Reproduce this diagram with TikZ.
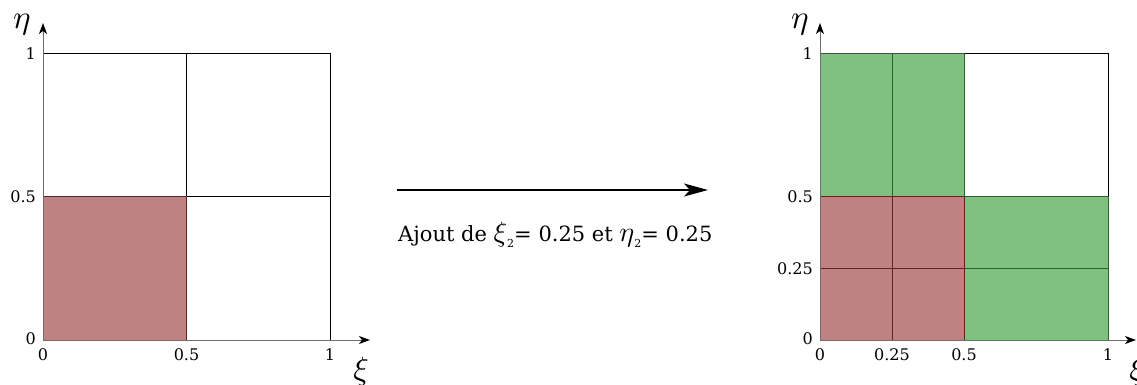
\documentclass[tikz,border=0pt]{standalone}
\usepackage{fontspec}
\setmainfont{DejaVu Serif}
\usetikzlibrary{arrows.meta}
\definecolor{redfill}{RGB}{191,130,130}
\definecolor{redline}{RGB}{100,35,35}
\definecolor{greenfill}{RGB}{128,192,128}
\definecolor{greenline}{RGB}{45,100,45}
\definecolor{axisgray}{RGB}{110,110,110}
\newcommand{\bigsym}[2]{\scalebox{#1}{\normalsize$#2$}}
\newcommand{\capsym}[2]{\bigsym{2.8}{#1}\raisebox{-0.6ex}{\fontsize{11}{11}\selectfont #2}}
\tikzset{
  tick/.style={font=\fontsize{16}{18}\selectfont, inner sep=1pt},
  axis/.style={draw=axisgray, line width=1pt, -{Stealth[length=11pt,width=8pt,inset=3pt,color=black]}},
  axlab/.style={inner sep=0pt},
  grid/.style={draw=black, line width=0.6pt},
  redcell/.style={fill=redfill, draw=redline, line width=0.8pt},
  greencell/.style={fill=greenfill, draw=greenline, line width=0.8pt}
}
\begin{document}
\begin{tikzpicture}[x=1pt,y=-1pt]
\useasboundingbox (0,0) rectangle (1137,385);
% ---------- left ----------
\coordinate (LO) at (43,340);
\draw[grid] (43,53) rectangle (330,340);
\draw[grid] (186.5,53) -- (186.5,340);
\draw[grid] (43,196.5) -- (330,196.5);
\draw[redcell] (43,196.5) rectangle (186.5,340);
\coordinate (LYT) at (43,23);
\coordinate (LXT) at (370,340);
\draw[axis] (LO) -- (LYT);
\draw[axis] (LO) -- (LXT);
\node[axlab] (leta) at (22,25) {\bigsym{3.3}{\eta}};
\node[axlab] (lxi) at (361,371) {\bigsym{3.2}{\xi}};
\node[tick, anchor=east] (ly1) at (37,54) {1};
\node[tick, anchor=east] (ly05) at (37,196.5) {0.5};
\node[tick, anchor=east] (ly0) at (37,339) {0};
\node[tick] (lx0) at (43,355) {0};
\node[tick] (lx05) at (186.5,355) {0.5};
\node[tick] (lx1) at (330,355) {1};
% ---------- arrow ----------
\coordinate (A1) at (397,190);
\coordinate (A2) at (708,190);
\draw[line width=1.6pt, -{Stealth[length=24pt,width=13pt,inset=6pt]}] (A1) -- (A2);
\node[font=\fontsize{21}{24}\selectfont, anchor=base west, inner sep=0pt] (cap) at (398,241) {Ajout de \capsym{\xi}{2}= 0.25 et \capsym{\eta}{2}= 0.25};
% ---------- right ----------
\coordinate (RO) at (820,340);
\draw[grid] (820,53) rectangle (1108,340);
\draw[greencell] (820,53) rectangle (964,196.5);
\draw[greenline, line width=0.8pt] (892,53) -- (892,196.5);
\draw[greencell] (964,196.5) rectangle (1108,340);
\draw[greenline, line width=0.8pt] (964,268.5) -- (1108,268.5);
\draw[redcell] (820,196.5) rectangle (964,340);
\draw[redline, line width=0.8pt] (892,196.5) -- (892,340);
\draw[redline, line width=0.8pt] (820,268.5) -- (964,268.5);
\coordinate (RYT) at (820,23);
\coordinate (RXT) at (1136,340);
\draw[axis] (RO) -- (RYT);
\draw[axis] (RO) -- (RXT);
\node[axlab] (reta) at (800,25) {\bigsym{3.3}{\eta}};
\node[axlab] (rxi) at (1137,371) {\bigsym{3.2}{\xi}};
\node[tick, anchor=east] (ry1) at (814,54) {1};
\node[tick, anchor=east] (ry05) at (814,196.5) {0.5};
\node[tick, anchor=east] (ry025) at (814,268.5) {0.25};
\node[tick, anchor=east] (ry0) at (814,339) {0};
\node[tick] (rx0) at (820,355) {0};
\node[tick] (rx025) at (892,355) {0.25};
\node[tick] (rx05) at (964,355) {0.5};
\node[tick] (rx1) at (1108,355) {1};
\end{tikzpicture}
\end{document}
